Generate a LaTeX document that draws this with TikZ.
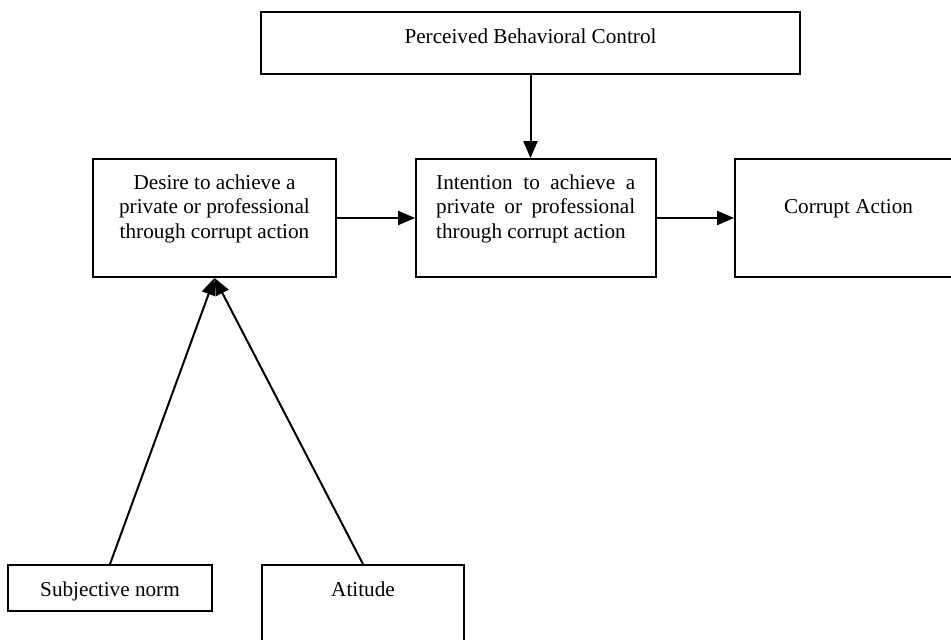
\documentclass[tikz,border=0pt]{standalone}
\usepackage{fontspec}
\setmainfont{Liberation Serif}
\usetikzlibrary{arrows.meta}
\begin{document}
\begin{tikzpicture}[x=1pt,y=-1pt,
  box/.style={draw=black, line width=1.8pt, inner sep=0pt, rectangle},
  txt/.style={inner sep=0pt, font=\fontsize{21.2pt}{24.5pt}\selectfont},
  arr/.style={line width=2pt, -{Triangle[length=17pt,width=14pt]}},
]
\useasboundingbox (0,0) rectangle (951,640);
\clip (0,0) rectangle (951,640);
% boxes
\node[box, minimum width=539pt, minimum height=62pt] (pbc) at (530.5,43) {};
\node[box, minimum width=243pt, minimum height=118pt] (desire) at (214.5,218) {};
\node[box, minimum width=240pt, minimum height=118pt] (intention) at (536,218) {};
\node[box, minimum width=227pt, minimum height=118pt] (corrupt) at (848.5,218) {};
\node[box, minimum width=204pt, minimum height=46pt] (subj) at (110,588) {};
\node[box, minimum width=202pt, minimum height=118pt] (atitude) at (363,624) {};
% texts
\node[txt, anchor=base] (pbct) at (530.5,43) {Perceived Behavioral Control};
\node[txt, anchor=north, align=center] (desiret) at (214.5,174.5) {Desire to achieve a\\private or professional\\through corrupt action};
\node[txt, anchor=north west, text width=199pt, align=justify] (intentiont) at (436,174.5) {\hyphenpenalty=10000 Intention to achieve a private or professional through corrupt action};
\node[txt, anchor=base] (corruptt) at (848.5,213) {Corrupt Action};
\node[txt, anchor=base] (subjt) at (110,596) {Subjective norm};
\node[txt, anchor=base] (atitudet) at (363,596) {Atitude};
% arrows
\draw[arr] (pbc.south) -- (pbc.south |- intention.north);
\draw[arr] (desire.east) -- (intention.west);
\draw[arr] (intention.east) -- (corrupt.west);
\draw[arr] (subj.north) -- (desire.south);
\draw[arr] (atitude.north) -- (desire.south);
\end{tikzpicture}
\end{document}
